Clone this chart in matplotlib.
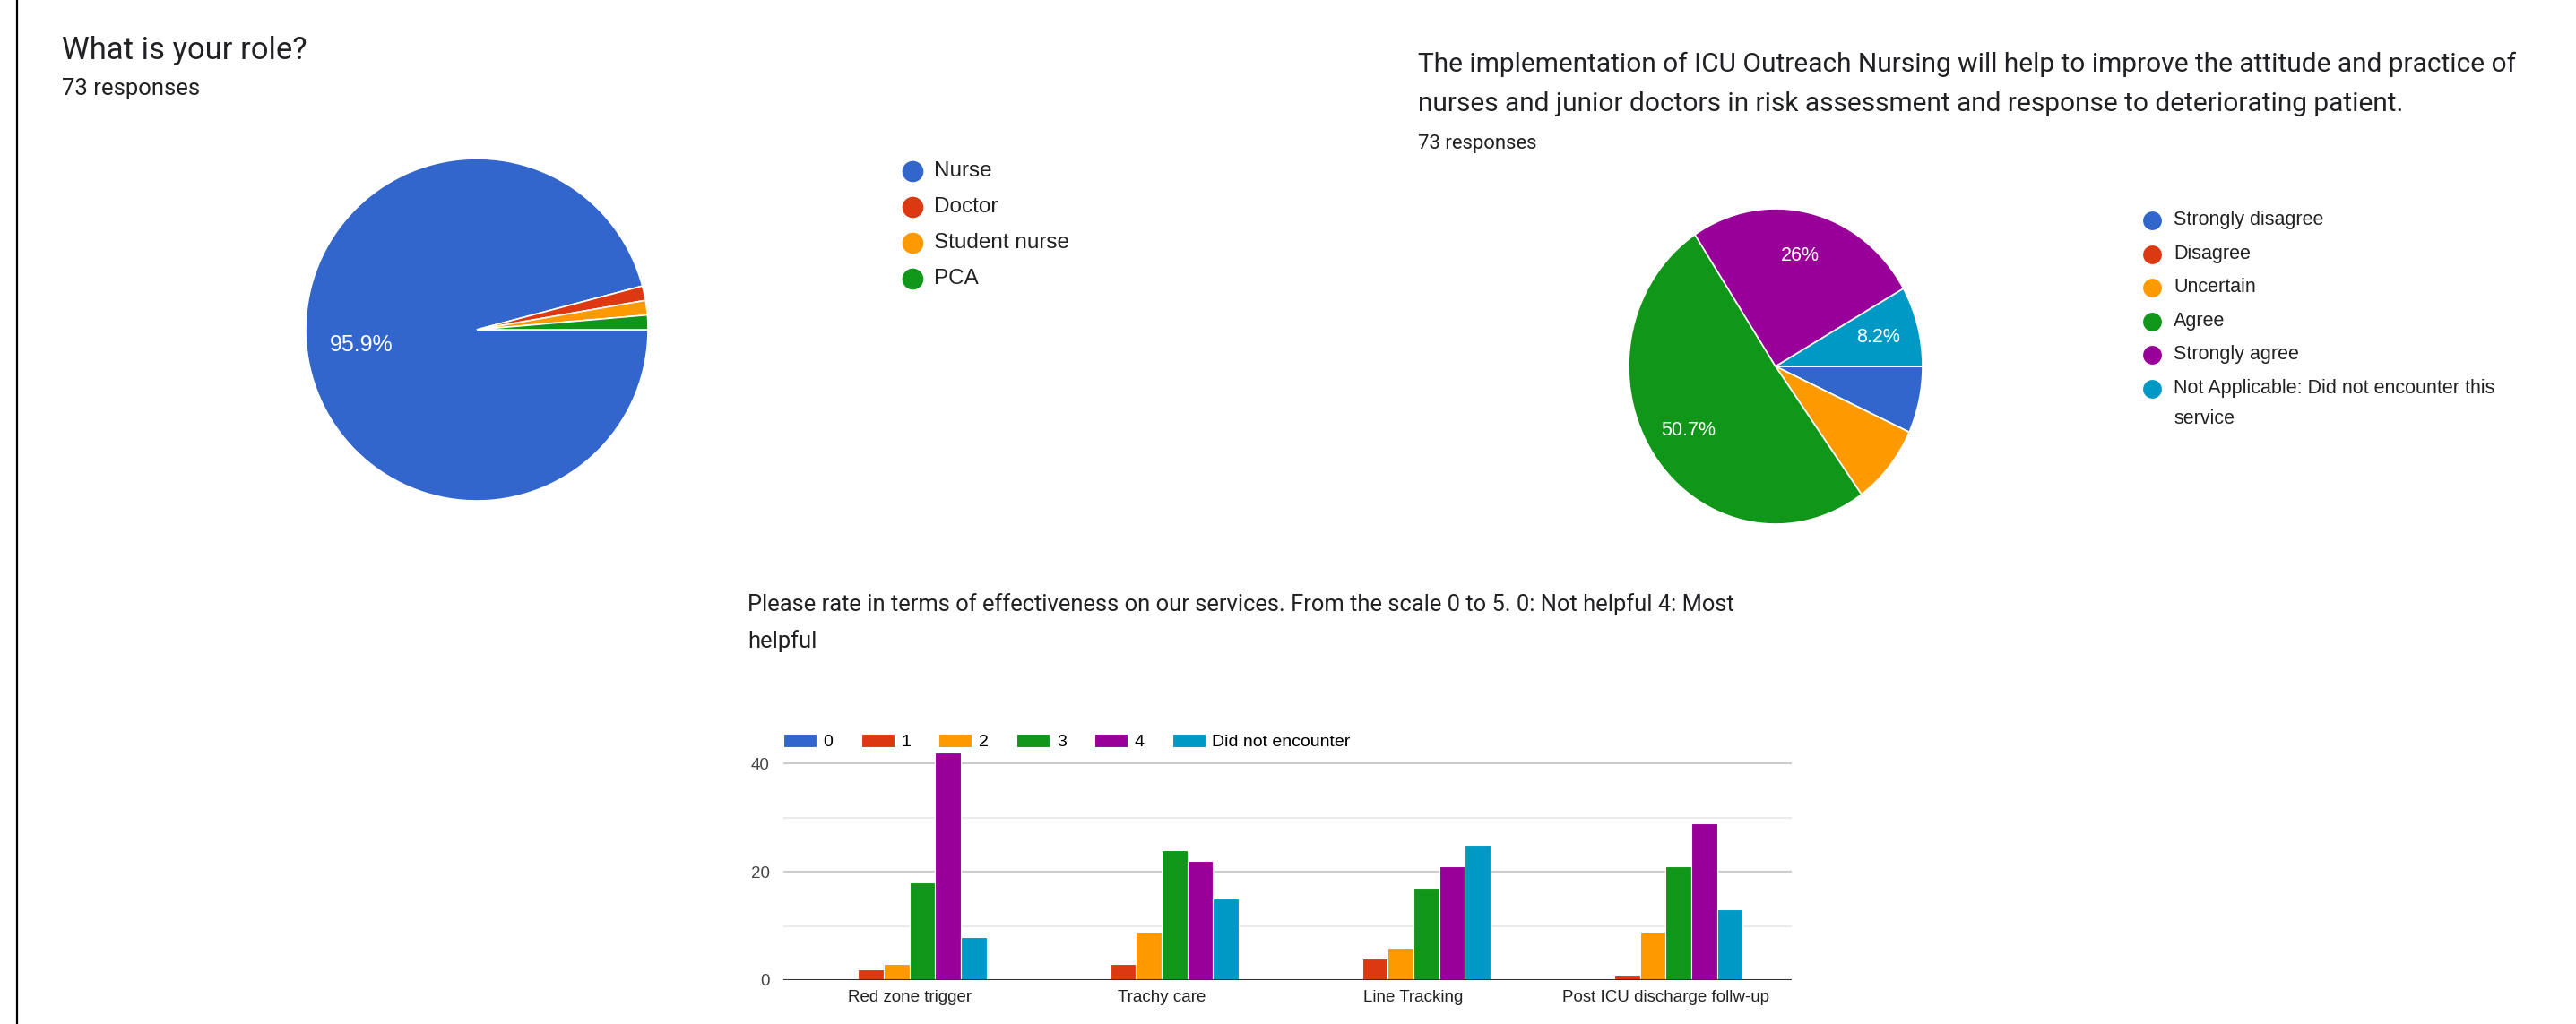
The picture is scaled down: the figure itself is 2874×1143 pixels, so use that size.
import matplotlib.pyplot as plt
import numpy as np

W, H = 2874, 1143

# --- data ---
role_labels = ["Nurse", "Doctor", "Student nurse", "PCA"]
role_counts = [70, 1, 1, 1]
role_shown = ["Nurse"]

agree_labels = ["Strongly disagree", "Disagree", "Uncertain", "Agree", "Strongly agree",
                "Not Applicable: Did not encounter this\nservice"]
agree_counts = [5, 0, 6, 37, 19, 6]
agree_shown = ["Agree", "Strongly agree", "Not Applicable: Did not encounter this\nservice"]

services = ["Red zone trigger", "Trachy care", "Line Tracking", "Post ICU discharge follw-up"]
rating_labels = ["0", "1", "2", "3", "4", "Did not encounter"]
rating_0 = [0, 0, 0, 0]
rating_1 = [2, 3, 4, 1]
rating_2 = [3, 9, 6, 9]
rating_3 = [18, 24, 17, 21]
rating_4 = [42, 22, 21, 29]
rating_dne = [8, 15, 25, 13]

colors = ["#3366cc", "#dc3912", "#ff9900", "#109618", "#990099", "#0099c6"]
ink = "#202124"
title_font = "Roboto"
chart_font = "Liberation Sans"

fig = plt.figure(figsize=(W / 100, H / 100), dpi=100)
renderer = fig.canvas.get_renderer()


def px_axes(x0, y0, x1, y1):
    return fig.add_axes([x0 / W, 1 - y1 / H, (x1 - x0) / W, (y1 - y0) / H])


# overlay in pixel coordinates for titles / legends
over = px_axes(0, 0, W, H)
over.set_xlim(0, W)
over.set_ylim(H, 0)
over.axis("off")


def fit_text(x, y, s, width, **kw):
    t = over.text(x, y, s, fontsize=20, **kw)
    w = t.get_window_extent(renderer).width
    t.set_fontsize(20 * width / w)
    return t.get_fontsize()


def pct(v, total):
    s = f"{100 * v / total:.1f}"
    return (s[:-2] if s.endswith(".0") else s) + "%"


def pie_labels(ax, wedges, labels, counts, shown, r, size):
    total = sum(counts)
    for w, lab, v in zip(wedges, labels, counts):
        if lab not in shown:
            continue
        a = np.deg2rad((w.theta1 + w.theta2) / 2)
        ax.text(r * np.cos(a), r * np.sin(a), pct(v, total), color="white",
                fontsize=size, family=chart_font, ha="center", va="center")


def circle_legend(x, y, step, line_step, labels, cols, size, ms):
    for lab, c in zip(labels, cols):
        over.plot(x, y, "o", ms=ms, color=c, mec="none")
        lines = lab.split("\n")
        for k, ln in enumerate(lines):
            over.text(x + 24, y + k * line_step, ln, fontsize=size, family=chart_font,
                      color="#222222", va="center")
        y += step + (len(lines) - 1) * line_step


# page border on the left
over.axvline(19, color="black", lw=1.6)

# --- left pie ---
fit_text(69, 66, "What is your role?", 273, family=title_font, color=ink)
fit_text(69, 106, "73 responses", 153, family=title_font, color=ink)

axl = px_axes(532 - 191, 368 - 191, 532 + 191, 368 + 191)
wl, _ = axl.pie(role_counts, colors=colors[:4], startangle=0, counterclock=False,
                wedgeprops=dict(edgecolor="white", linewidth=1.2))
axl.set_aspect("auto")
axl.set_xlim(-1, 1)
axl.set_ylim(-1, 1)
pie_labels(axl, wl, role_labels, role_counts, role_shown, 0.68, 18)
circle_legend(1018, 191, 40, 0, role_labels, colors[:4], 17.5, 17)

# --- right pie ---
s2 = fit_text(1582, 80, "The implementation of ICU Outreach Nursing will help to improve the attitude and practice of",
              1224, family=title_font, color=ink)
over.text(1582, 124, "nurses and junior doctors in risk assessment and response to deteriorating patient.",
          fontsize=s2, family=title_font, color=ink)
fit_text(1582, 166, "73 responses", 132, family=title_font, color=ink)

axr = px_axes(1981 - 164, 409 - 176, 1981 + 164, 409 + 176)
wr, _ = axr.pie(agree_counts, colors=colors, startangle=0, counterclock=False,
                wedgeprops=dict(edgecolor="white", linewidth=1.2))
axr.set_aspect("auto")
axr.set_xlim(-1, 1)
axr.set_ylim(-1, 1)
pie_labels(axr, wr, agree_labels, agree_counts, agree_shown, 0.72, 15.5)
circle_legend(2401, 246, 37.5, 34, agree_labels, colors, 15.5, 15)

# --- grouped bars ---
s3 = fit_text(834, 682, "Please rate in terms of effectiveness on our services. From the scale 0 to 5. 0: Not helpful 4: Most",
              1098, family=title_font, color=ink)
over.text(834, 723, "helpful", fontsize=s3, family=title_font, color=ink)

ax = px_axes(874, 828, 1999, 1094)
x = np.arange(len(services))
series = [rating_0, rating_1, rating_2, rating_3, rating_4, rating_dne]
bw = 0.102
for i, (vals, lab, c) in enumerate(zip(series, rating_labels, colors)):
    ax.bar(x + (i - 2.5) * bw, vals, bw, color=c, edgecolor="white", linewidth=0.8,
           label=lab, zorder=3)
ax.set_xlim(-0.5, 3.5)
ax.set_ylim(0, 44)
ax.set_yticks([0, 20, 40])
ax.set_yticks([10, 30], minor=True)
ax.grid(axis="y", which="major", color="#cccccc", lw=1.5, zorder=0)
ax.grid(axis="y", which="minor", color="#ebebeb", lw=1.5, zorder=0)
ax.axhline(0, color="#333333", lw=2.2, zorder=4)
for sp in ax.spines.values():
    sp.set_visible(False)
ax.set_xticks(x, services)
ax.tick_params(axis="both", which="both", length=0)
ax.tick_params(axis="x", pad=8, labelsize=13.5, labelcolor="#222222")
ax.tick_params(axis="y", pad=11, labelsize=13.5, labelcolor="#444444")
for t in ax.get_xticklabels() + ax.get_yticklabels():
    t.set_family(chart_font)
ax.legend(ncol=6, loc="center left", bbox_to_anchor=(0, 1.0), frameon=False,
          borderaxespad=0, borderpad=0, handlelength=1.9, handleheight=0.85,
          handletextpad=0.4, columnspacing=1.6,
          prop=dict(family=chart_font, size=14))

fig.savefig("out.png", dpi=100, facecolor="white")
